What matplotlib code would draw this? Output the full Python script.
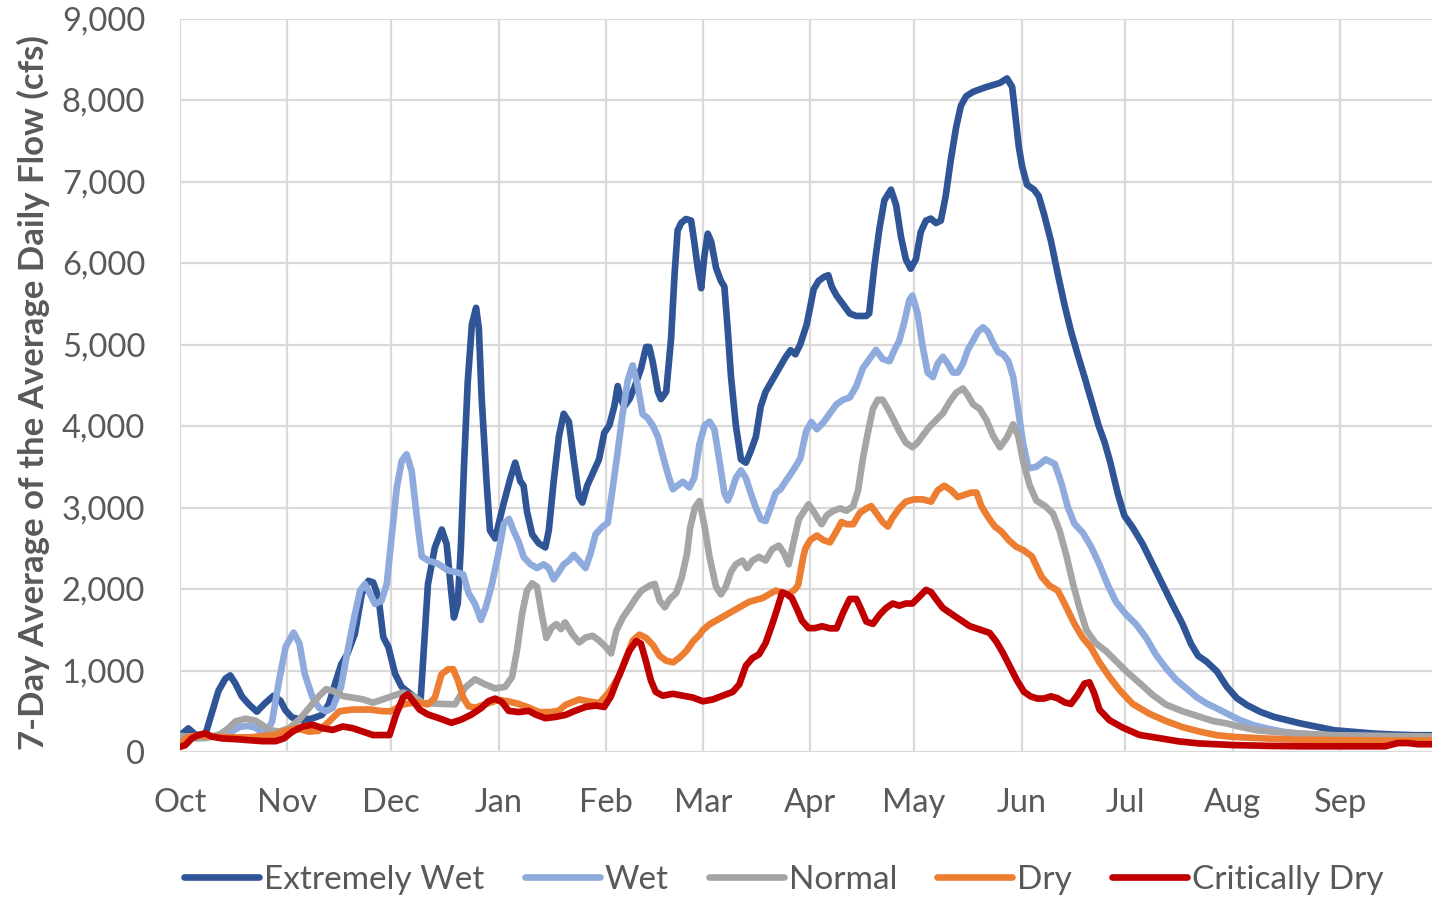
import matplotlib
matplotlib.use("Agg")
import matplotlib.pyplot as plt
from matplotlib.ticker import FuncFormatter

plt.rcParams["font.family"] = ["Lato", "DejaVu Sans"]

# water-year day (0 = Oct 1) and 7-day average flow (cfs)
ext_wet_day = [0, 2.4, 4.5, 7.3, 9.2, 11.1, 13.1, 14.5, 16, 17.9, 20, 22.2, 24.6, 27, 29, 30.4,
               32.3, 35.2, 38.1, 41, 43, 45, 46.6, 48.3, 50.5, 52.5, 54.4, 55.8, 57.3, 58.7, 60.2,
               62.1, 64, 65.9, 67.9, 69.5, 70.6, 71.6, 73.6, 75.6, 77, 78.2, 79.1, 80.2, 81.1,
               82.1, 83.1, 84.3, 85.5, 86.3, 87.1, 88.5, 89.5, 91, 93.4, 95.4, 96.8, 98.3, 99.2,
               100.2, 101.7, 103.6, 105.5, 106.5, 107.9, 109.4, 110.8, 112.3, 113.7, 115.2, 116.2,
               117.6, 119.1, 121, 122.5, 124, 125.4, 126.4, 127.3, 128.3, 129.8, 131.2, 133.1,
               134.6, 135.5, 136.5, 138, 138.9, 140.4, 141.8, 142.8, 143.7, 144.7, 146.1, 147.6,
               148.5, 149.5, 150.5, 151.4, 152.4, 153.4, 154.8, 156.2, 157.2, 158.2, 159.1, 160.5,
               162, 163.4, 164.8, 166.3, 167.7, 169.1, 171, 172.9, 174.8, 176.3, 177.7, 179.1,
               181, 183, 184.4, 186, 187.2, 188.2, 189.6, 191.5, 193.4, 195.3, 198.2, 199, 200.6,
               202, 203.4, 205.3, 206.8, 208.2, 209.6, 211, 212.5, 213.9, 215.4, 216.8, 218.3,
               219.7, 221.1, 222.6, 224.1, 225.5, 227, 229, 230.9, 232.9, 234.8, 236.8, 238.8,
               240.3, 241.2, 242.2, 243.2, 244.6, 246.6, 248, 249.5, 251.5, 253.4, 255.4, 257.3,
               259.2, 261.2, 263.1, 265.3, 267, 268.6, 270.8, 272.7, 275.1, 278, 280.9, 283.7,
               286.6, 289.5, 291.9, 294, 296.4, 299.4, 302.3, 305.2, 308.1, 311.9, 315.8, 319.7,
               323.6, 328.4, 333.3, 339.1, 344.9, 350.7, 356.6, 362]
ext_wet_cfs = [200, 290, 210, 210, 480, 750, 900, 940, 840, 680, 580, 495, 600, 690, 630, 515,
               425, 395, 410, 455, 590, 870, 1080, 1200, 1450, 1940, 2100, 2080, 1900, 1410, 1285,
               960, 800, 735, 670, 650, 1400, 2060, 2510, 2730, 2550, 2020, 1650, 1820, 2510,
               3600, 4550, 5250, 5450, 5200, 4350, 3330, 2720, 2620, 3040, 3360, 3550, 3320, 3270,
               2950, 2670, 2560, 2510, 2720, 3320, 3870, 4150, 4050, 3590, 3130, 3060,
               3270, 3410, 3590, 3915, 4010, 4240, 4490, 4330, 4240, 4330, 4470, 4700,
               4970, 4970, 4790, 4420, 4330, 4420, 5070, 5850, 6400, 6490, 6540, 6520,
               6260, 5940, 5690, 6080, 6360, 6260, 5940, 5780, 5710, 5160, 4610, 4010,
               3590, 3550, 3690, 3870, 4240, 4420, 4560, 4700, 4840, 4930, 4880, 5000,
               5250, 5680, 5780, 5830, 5850, 5710, 5600, 5490, 5380, 5350, 5350, 5380, 5990,
               6430, 6770, 6900, 6710, 6320, 6045, 5930, 6045, 6380, 6520, 6545, 6490,
               6520, 6820, 7270, 7660, 7930, 8045, 8100, 8130, 8160, 8185, 8210, 8265,
               8160, 7820, 7430, 7180, 6960, 6900, 6820, 6600, 6270, 5880, 5490, 5160,
               4880, 4600, 4320, 4000, 3800, 3560, 3170, 2900, 2755, 2550, 2300, 2060,
               1810, 1570, 1330, 1180, 1110, 990, 800, 660, 576, 494, 432, 391,
               350, 309, 267, 247, 226, 214, 206, 206]

wet_day = [0, 5, 10, 14.9, 17.3, 19.7, 21.7, 24.7, 26.6, 28.6, 30.5, 32.8, 34.5, 36, 38.3, 40.2,
           42.2, 44.1, 46.5, 48.6, 50.5, 52, 53.4, 54.9, 56.3, 58.2, 59.7, 61.1, 62.6, 64, 65.4,
           66.9, 68.3, 69.8, 71.6, 74.5, 77.4, 80.3, 81.8, 83.3, 85.2, 86.9, 88.3, 90.1, 92,
           93.5, 95, 96.3, 97.8, 99.2, 101.2, 103.1, 105, 106.5, 107.9, 109.4, 110.8, 112.3,
           113.7, 115.2, 117.1, 118.6, 120, 122, 123.5, 124.9, 126.4, 127.8, 129.3, 130.7,
           132.1, 133.6, 135, 136.5, 138, 139.4, 140.9, 142.3, 143.7, 145.2, 147.1, 148.5, 150,
           151.5, 152.9, 154.3, 155.7, 157.2, 158.2, 159.1, 160.5, 162, 163.4, 164.8, 166.3,
           167.7, 169.1, 170.5, 172, 173.4, 174.8, 176.3, 177.7, 179.1, 180.8, 182.3, 183.9,
           185.8, 187.7, 189.6, 191.5, 193.4, 195.3, 197.2, 199.1, 201, 202.9, 204.9, 206.3,
           207.7, 209.1, 210.6, 211.5, 213, 214.4, 215.9, 217.4, 218.8, 220.3, 221.7, 223.2,
           224.6, 226.1, 227.5, 229, 230.4, 231.9, 233.3, 234.8, 236.3, 237.7, 239.2, 240.6,
           242.1, 243.4, 245, 247.3, 250, 252.6, 254.5, 256.4, 258.3, 260.7, 263.1, 265.5,
           267.9, 270.3, 273.2, 276.1, 279, 281.8, 284.7, 287.6, 290.5, 293.5, 296.4, 299.4,
           302.3, 306.1, 310, 313.9, 318.7, 323.6, 328.4, 335, 345, 355, 362]
wet_cfs = [200, 170, 200, 250, 310, 320, 300, 210, 375, 876, 1290, 1465, 1330, 960, 667, 540,
           500, 542, 800, 1285, 1693, 1979, 2061, 1938, 1816, 1856, 2061, 2632, 3244, 3570, 3652,
           3448, 2917, 2400, 2351, 2310, 2228, 2200, 2180, 1950, 1816, 1620, 1776, 2063, 2450,
           2800, 2860, 2718, 2579, 2395, 2303, 2257, 2303, 2257, 2119, 2211, 2303, 2349,
           2418, 2349, 2257, 2441, 2671, 2764, 2810, 3224, 3685, 4145, 4560, 4744,
           4514, 4145, 4099, 4007, 3869, 3639, 3408, 3224, 3270, 3316, 3247, 3362, 3777,
           4007, 4053, 3961, 3593, 3178, 3086, 3178, 3362, 3455, 3362, 3178, 2994,
           2856, 2833, 2994, 3178, 3224, 3316, 3408, 3500, 3600, 3934, 4050, 3961,
           4045, 4156, 4267, 4322, 4350, 4489, 4711, 4822, 4934, 4822, 4795, 4934,
           5045, 5267, 5545, 5600, 5378, 4989, 4656, 4600, 4767, 4850, 4767, 4656,
           4656, 4767, 4934, 5045, 5156, 5211, 5156, 5017, 4906, 4878, 4795, 4600,
           4180, 3800, 3480, 3500, 3590, 3534, 3300, 3000, 2800, 2690, 2520, 2300,
           2050, 1840, 1688, 1566, 1400, 1195, 1030, 888, 785, 675, 597, 535,
           473, 391, 329, 288, 247, 226, 206, 200, 195, 190, 185]

normal_day = [0, 3, 7, 11, 14, 16, 18.9, 21.8, 23.7, 25.7, 28.6, 31.5, 34.4, 37.3, 40.2, 42.2,
              44.1, 47, 49.9, 52.8, 55.7, 58.6, 61.5, 64.4, 67.3, 70.3, 73.4, 76.5, 79.4, 82.3,
              85.2, 88.1, 91, 93.9, 95.9, 97.3, 98.8, 100.2, 101.7, 103.1, 104.6, 105.8, 107.3,
              108.7, 110, 111.2, 113.4, 115.3, 117.2, 119.2, 121.1, 123.1, 124.5, 126, 127.9,
              129.9, 131.8, 133.3, 135.7, 137.1, 138.5, 140, 141.5, 143.3, 144.9, 146.4, 147.3,
              148.7, 150, 151.5, 152.9, 154.8, 156.2, 157.6, 159.1, 160.5, 162.4, 163.8, 165.3,
              167.2, 169.1, 171, 172.9, 174.4, 175.8, 177.2, 178.7, 180.1, 181.5, 183, 184.4,
              185.3, 186.8, 188.7, 190.6, 192.5, 194.4, 195.8, 197.2, 198.7, 200.1, 201.5, 202.9,
              204.4, 205.8, 207.7, 209.6, 211.5, 213, 214.4, 216.4, 218.3, 220.3, 222.2, 224.1,
              226.1, 227.5, 229, 230.9, 232.9, 234.8, 236.8, 238.8, 240.6, 242.1, 243.5, 245.3,
              247.3, 249.7, 252.1, 254, 255.9, 257.9, 259.8, 261.7, 264.3, 267.4, 270.3, 273.2,
              277, 280.9, 284.7, 289.5, 294.5, 298.4, 302.3, 306.1, 311, 315.8, 323.6, 333.3,
              345, 362]
normal_cfs = [188, 170, 170, 200, 292, 375, 409, 384, 334, 271, 250, 292, 396, 542, 688, 771,
              751, 688, 667, 646, 605, 646, 688, 730, 688, 600, 595, 590, 584, 789,
              892, 830, 780, 800, 921, 1244, 1700, 1981, 2070, 2027, 1658, 1400, 1525,
              1570, 1508, 1590, 1440, 1344, 1406, 1426, 1365, 1282, 1210, 1488, 1652,
              1776, 1899, 1981, 2043, 2063, 1858, 1776, 1880, 1950, 2145, 2433, 2750,
              3000, 3080, 2764, 2395, 2027, 1934, 2027, 2211, 2303, 2349, 2257, 2349,
              2395, 2349, 2487, 2533, 2441, 2303, 2579, 2856, 2948, 3040, 2948, 2850,
              2795, 2906, 2961, 2989, 2961, 3017, 3211, 3600, 3934, 4211, 4322, 4322,
              4211, 4100, 3934, 3795, 3739, 3795, 3878, 3989, 4072, 4156, 4295, 4406,
              4461, 4378, 4267, 4211, 4072, 3878, 3739, 3860, 4020, 3870, 3560, 3280,
              3083, 3022, 2925, 2714, 2420, 2060, 1760, 1500, 1340, 1238, 1115, 992,
              850, 700, 582, 500, 432, 379, 350, 309, 267, 247, 226, 206,
              198, 190]

dry_day = [0, 2.4, 5, 10, 15, 20, 25, 27.4, 29.6, 33.4, 37.3, 40, 43.1, 46, 49.9, 54.8, 58.6,
           61, 64.4, 68.3, 71.6, 73.6, 75.5, 77.4, 78.9, 80.3, 81.8, 83.3, 85.2, 88.1, 92, 94.9,
           97.8, 100.7, 103.7, 107, 109.4, 111.4, 115.3, 118.2, 121.1, 124, 126.9, 128.8, 130.8,
           132.7, 134.6, 136.6, 138.5, 140.4, 142.4, 144.3, 146.2, 148.2, 150.1, 151, 152.9,
           154.8, 156.7, 158.6, 160.5, 162.4, 164.3, 166.3, 168.2, 170.1, 172, 173.9, 175.8,
           177.7, 178.5, 180, 180.6, 182, 183.9, 185.8, 187.7, 189.6, 191, 192.5, 194.4, 196.3,
           198.2, 199.6, 201, 202.9, 204.4, 205.8, 207.7, 209.6, 212, 214.4, 216.9, 218.8,
           220.7, 222.7, 224.6, 226.6, 228.5, 230, 231.4, 233.4, 235.3, 237.3, 239.3, 241.4,
           243.6, 246, 248.8, 251.1, 253.5, 255.9, 258.3, 260.7, 263.1, 265.5, 268.4, 271.3,
           275.1, 279.9, 284.7, 289.5, 294.5, 299.4, 304.2, 313.9, 323.6, 335, 348, 362]
dry_cfs = [104, 188, 200, 190, 180, 180, 200, 208, 250, 292, 250, 260, 375, 500, 521, 521, 500,
           500, 584, 610, 584, 666, 953, 1015, 1015, 871, 666, 563, 543, 584, 640, 620,
           590, 545, 490, 490, 507, 580, 645, 620, 600, 740, 937, 1159, 1370,
           1440, 1400, 1310, 1180, 1120, 1100, 1160, 1240, 1360, 1440, 1497, 1566,
           1612, 1658, 1704, 1750, 1796, 1842, 1865, 1888, 1934, 1981, 1958, 1934,
           2000, 2050, 2400, 2500, 2600, 2656, 2600, 2572, 2711, 2822, 2795, 2795, 2934,
           2989, 3017, 2934, 2822, 2767, 2878, 2989, 3072, 3100, 3100, 3072, 3211,
           3267, 3211, 3128, 3156, 3183, 3183, 3017, 2878, 2767, 2700, 2600, 2520,
           2475, 2400, 2150, 2040, 1980, 1780, 1570, 1400, 1279, 1100, 920, 760,
           590, 470, 380, 305, 250, 206, 185, 165, 150, 145, 140, 140]

crit_dry_day = [0, 1.5, 3.4, 5.3, 7.3, 9.2, 12.1, 16, 19.9, 23.7, 27.6, 30, 32.5, 35.4, 38.3,
                41.2, 44.1, 47, 49.9, 52.8, 55.7, 58.6, 60.5, 62.4, 64.4, 65.8, 67.3, 69.2, 71.6,
                74.5, 78.4, 81.3, 84.2, 87.1, 89, 91, 93, 94.9, 97.8, 100.7, 102.6, 105.5, 108.4,
                111.3, 114.2, 117.1, 120, 122.5, 124.4, 126.4, 127.8, 129.8, 131.7, 133.1, 134.6,
                136, 137.4, 139.4, 142.3, 145.2, 148.1, 151, 153.9, 156.7, 159.6, 161.5, 163.4,
                165.3, 167.2, 169.1, 171, 172.4, 173.9, 175.3, 176.7, 178.2, 179.6, 181.5, 183.4,
                185.4, 187.7, 189.6, 191.5, 193.4, 195.3, 196.8, 198.2, 200.1, 202, 203.9, 205.8,
                207.7, 209.6, 211.5, 213.5, 215.4, 216.9, 218.3, 220.3, 222.2, 224.1, 226.1, 228,
                230, 231.9, 233.8, 235.8, 237.7, 239.7, 241.7, 243.7, 245.6, 247.5, 249.5, 251.5,
                253.4, 255.4, 257.3, 259.2, 261.2, 262.6, 264, 265.5, 268.4, 272.2, 277, 282.7,
                288.5, 294.3, 304.2, 314, 324, 335, 348, 351.7, 354.6, 357.5, 362]
crit_dry_cfs = [63, 83, 167, 208, 229, 188, 167, 158, 146, 133, 133, 167, 250, 313, 334,
                292, 271, 313, 292, 250, 208, 208, 208, 459, 667, 709, 626, 520, 460,
                419, 358, 399, 460, 543, 622, 655, 610, 505, 490, 505, 461, 415, 430,
                455, 507, 553, 570, 553, 680, 900, 1040, 1244, 1360, 1330, 1105,
                875, 737, 691, 714, 691, 668, 622, 645, 691, 737, 829, 1059,
                1152, 1198, 1336, 1566, 1750, 1958, 1934, 1888, 1750, 1612, 1520, 1520,
                1543, 1517, 1517, 1711, 1878, 1878, 1739, 1600, 1572, 1683, 1767, 1822,
                1795, 1822, 1822, 1906, 1989, 1961, 1878, 1767, 1711, 1656, 1600, 1545,
                1517, 1489, 1461, 1350, 1211, 1044, 878, 739, 683, 656, 656, 683,
                660, 610, 590, 700, 840, 855, 720, 520, 390, 300, 210, 170,
                130, 105, 85, 75, 70, 70, 70, 110, 110, 95, 95]

series = [
    ("Extremely Wet", ext_wet_day, ext_wet_cfs, "#2F5597"),
    ("Wet", wet_day, wet_cfs, "#8FAADC"),
    ("Normal", normal_day, normal_cfs, "#A5A5A5"),
    ("Dry", dry_day, dry_cfs, "#ED7D31"),
    ("Critically Dry", crit_dry_day, crit_dry_cfs, "#C00000"),
]

month_start = [0, 31, 61, 92, 123, 151, 182, 212, 243, 273, 304, 335]
month_labels = ["Oct", "Nov", "Dec", "Jan", "Feb", "Mar", "Apr", "May", "Jun", "Jul", "Aug", "Sep"]
flow_ticks = list(range(0, 9001, 1000))

TEXT = "#595959"
GRID = "#D9D9D9"


def main() -> None:
    fig = plt.figure(figsize=(14.32, 8.99), dpi=100)
    ax = fig.add_axes([180 / 1432, 1 - 752 / 899, 1 - 180 / 1432, (752 - 18.5) / 899])

    for name, days, cfs, color in series:
        ax.plot(days, cfs, color=color, lw=4.8, label=name, solid_capstyle="round",
                solid_joinstyle="round")

    ax.set_xlim(0, (1432 - 180) / 3.463)
    ax.set_ylim(0, 9000)
    ax.set_xticks(month_start)
    ax.set_xticklabels(month_labels)
    ax.set_yticks(flow_ticks)
    ax.yaxis.set_major_formatter(FuncFormatter(lambda v, _: f"{int(v):,}"))
    ax.tick_params(length=0, labelsize=23.5, labelcolor=TEXT)
    ax.tick_params(axis="x", pad=26)
    ax.tick_params(axis="y", pad=25)
    ax.grid(True, color=GRID, lw=1.6)
    ax.set_axisbelow(True)
    for sp in ax.spines.values():
        sp.set_visible(False)

    ax.set_ylabel("7-Day Average of the Average Daily Flow (cfs)", fontsize=25,
                  fontweight="bold", color=TEXT)
    ax.yaxis.set_label_coords((50 - 180) / 1252, 0.49)

    fig.legend(loc="center", bbox_to_anchor=(784 / 1432, 1 - 880 / 899), ncol=5, frameon=False,
               fontsize=24, labelcolor=TEXT, handlelength=2.25, handletextpad=0.15,
               columnspacing=1.2)

    fig.savefig("out.png", dpi=100)
    plt.close(fig)


if __name__ == "__main__":
    main()
